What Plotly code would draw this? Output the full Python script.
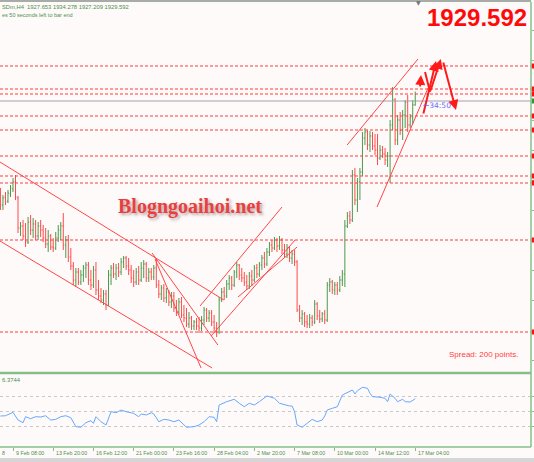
import plotly.graph_objects as go

# XAUUSDm H4 - bar index 0 is 9 Feb 08:00, the last bar is 17 Mar 04:00
first_bar = -5

bar_open = [
    1882.6, 1877.6, 1881.6, 1879.6, 1883.1, 1885.6, 1889.1, 1881.1, 1866.1, 1867.1,
    1862.1, 1859.1, 1869.1, 1865.1, 1868.1, 1862.1, 1867.1, 1865.1, 1861.1, 1858.1,
    1862.1, 1856.6, 1856.1, 1861.1, 1865.1, 1867.1, 1857.6, 1860.1, 1851.6, 1847.1,
    1840.1, 1844.1, 1839.1, 1842.6, 1846.1, 1847.6, 1840.1, 1837.6, 1845.1, 1835.1,
    1832.1, 1830.1, 1833.1, 1827.6, 1842.6, 1846.1, 1843.1, 1846.1, 1844.1, 1849.1,
    1851.1, 1847.1, 1845.1, 1841.1, 1839.1, 1844.1, 1840.1, 1846.1, 1848.1, 1841.1,
    1844.1, 1841.6, 1846.1, 1837.6, 1833.1, 1836.1, 1831.1, 1834.1, 1829.1, 1832.1,
    1826.1, 1824.1, 1829.1, 1822.6, 1821.1, 1818.1, 1821.1, 1817.1, 1819.1, 1817.1,
    1816.1, 1820.1, 1825.1, 1821.1, 1823.6, 1819.1, 1816.1, 1814.1, 1830.1, 1834.1,
    1832.1, 1838.1, 1841.1, 1837.6, 1844.1, 1847.6, 1842.6, 1841.1, 1839.1, 1837.1,
    1842.1, 1840.1, 1846.1, 1843.1, 1847.6, 1851.1, 1848.1, 1854.1, 1857.6, 1856.1,
    1860.1, 1857.1, 1860.1, 1855.1, 1853.1, 1856.1, 1851.1, 1853.1, 1849.1, 1825.1,
    1821.1, 1823.1, 1819.1, 1818.1, 1821.1, 1819.1, 1828.1, 1822.1, 1820.6, 1823.1,
    1820.1, 1837.6, 1839.1, 1835.1, 1837.6, 1835.1, 1840.1, 1843.1, 1867.1, 1872.1,
    1870.1, 1892.6, 1880.1, 1889.1, 1894.1, 1911.1, 1914.1, 1907.6, 1912.1, 1907.1,
    1905.1, 1901.1, 1905.1, 1903.1, 1900.1, 1902.1, 1917.6, 1930.1, 1910.1, 1920.1,
    1915.1, 1922.6, 1929.1, 1917.6, 1921.1, 1927.653,
]
bar_high = [
    1886.1, 1882.6, 1884.1, 1885.1, 1887.6, 1891.1, 1892.6, 1882.1, 1869.1, 1870.1,
    1868.6, 1871.6, 1872.6, 1871.1, 1870.1, 1869.1, 1870.1, 1867.6, 1866.1, 1865.1,
    1863.1, 1861.1, 1864.1, 1867.6, 1869.1, 1873.6, 1862.1, 1862.6, 1856.1, 1849.1,
    1846.1, 1846.1, 1845.1, 1847.6, 1849.1, 1849.1, 1845.1, 1847.1, 1849.1, 1840.1,
    1836.1, 1835.1, 1835.1, 1845.1, 1847.6, 1848.6, 1848.1, 1848.6, 1851.1, 1852.1,
    1852.1, 1851.1, 1847.6, 1845.1, 1846.1, 1847.1, 1849.1, 1850.1, 1849.1, 1846.1,
    1846.1, 1847.6, 1851.1, 1840.1, 1837.6, 1838.1, 1836.1, 1835.1, 1834.1, 1834.1,
    1830.1, 1831.1, 1831.6, 1827.6, 1826.1, 1824.1, 1822.1, 1820.1, 1821.1, 1821.6,
    1822.1, 1826.6, 1826.1, 1825.1, 1825.1, 1822.6, 1819.1, 1831.6, 1836.1, 1836.6,
    1840.1, 1842.6, 1842.1, 1845.1, 1849.1, 1848.1, 1846.1, 1844.1, 1842.6, 1844.1,
    1845.1, 1847.6, 1848.1, 1849.1, 1852.6, 1854.1, 1856.1, 1859.1, 1860.1, 1861.6,
    1861.1, 1862.1, 1861.1, 1858.1, 1858.1, 1857.1, 1855.1, 1855.1, 1850.1, 1827.6,
    1825.1, 1824.1, 1822.6, 1823.1, 1822.6, 1830.1, 1829.1, 1825.1, 1824.1, 1825.1,
    1839.1, 1841.1, 1840.1, 1839.1, 1839.1, 1842.1, 1845.1, 1870.1, 1874.1, 1874.6,
    1895.1, 1896.1, 1891.1, 1896.1, 1914.1, 1916.1, 1915.1, 1914.6, 1914.1, 1913.1,
    1913.1, 1907.6, 1907.1, 1906.1, 1904.1, 1920.1, 1936.6, 1931.1, 1922.6, 1924.1,
    1925.1, 1930.1, 1932.6, 1923.1, 1930.1, 1934.278,
]
bar_low = [
    1875.1, 1875.1, 1877.6, 1878.6, 1881.6, 1884.1, 1880.1, 1863.6, 1862.1, 1860.1,
    1856.6, 1858.1, 1862.6, 1861.1, 1860.1, 1860.1, 1861.6, 1859.1, 1856.1, 1854.1,
    1855.1, 1854.1, 1855.1, 1859.1, 1860.1, 1855.1, 1851.1, 1849.1, 1845.1, 1837.6,
    1836.6, 1837.6, 1837.6, 1839.1, 1841.1, 1837.6, 1835.1, 1836.1, 1832.6, 1830.1,
    1828.6, 1827.6, 1825.1, 1827.1, 1837.6, 1841.1, 1840.1, 1841.6, 1842.6, 1846.1,
    1845.1, 1842.6, 1838.6, 1836.6, 1837.6, 1837.6, 1839.1, 1841.1, 1839.1, 1839.1,
    1840.1, 1840.1, 1836.1, 1831.1, 1830.1, 1829.1, 1828.6, 1827.1, 1826.1, 1824.1,
    1822.1, 1822.6, 1821.1, 1819.1, 1816.6, 1816.1, 1815.1, 1815.1, 1815.1, 1813.6,
    1814.6, 1817.6, 1819.1, 1819.1, 1817.1, 1813.6, 1811.6, 1813.1, 1829.1, 1830.1,
    1831.1, 1835.1, 1835.1, 1836.6, 1841.1, 1840.1, 1839.1, 1837.1, 1835.1, 1835.6,
    1837.1, 1839.1, 1841.1, 1841.6, 1845.1, 1846.1, 1847.1, 1852.1, 1854.1, 1855.1,
    1854.1, 1855.1, 1853.1, 1851.1, 1851.1, 1849.1, 1848.1, 1847.1, 1824.1, 1819.1,
    1817.6, 1816.6, 1816.1, 1816.1, 1817.1, 1818.1, 1820.1, 1818.6, 1819.1, 1818.1,
    1819.1, 1834.1, 1833.1, 1832.6, 1832.6, 1834.1, 1837.1, 1836.6, 1866.1, 1868.1,
    1869.1, 1877.6, 1874.1, 1880.1, 1892.1, 1907.6, 1905.1, 1904.1, 1905.1, 1902.6,
    1897.6, 1900.1, 1901.1, 1897.6, 1896.6, 1888.6, 1915.1, 1907.6, 1907.6, 1912.6,
    1910.1, 1916.1, 1914.1, 1916.1, 1918.1, 1927.209,
]
bar_close = [
    1877.6, 1881.1, 1879.1, 1883.6, 1886.1, 1889.1, 1881.6, 1866.1, 1867.1, 1862.1,
    1859.1, 1869.1, 1865.1, 1868.1, 1862.1, 1867.1, 1865.1, 1861.1, 1858.1, 1862.1,
    1856.6, 1856.1, 1861.1, 1865.1, 1867.1, 1857.6, 1860.1, 1851.6, 1847.1, 1840.1,
    1844.1, 1839.1, 1842.6, 1846.1, 1847.6, 1840.1, 1837.6, 1845.1, 1835.1, 1832.1,
    1830.1, 1833.1, 1827.6, 1842.6, 1846.1, 1843.1, 1846.1, 1844.1, 1849.1, 1851.1,
    1847.1, 1845.1, 1841.1, 1839.1, 1844.1, 1840.1, 1846.1, 1848.1, 1841.1, 1844.1,
    1841.6, 1846.1, 1837.6, 1833.1, 1836.1, 1831.1, 1834.1, 1829.1, 1832.1, 1826.1,
    1824.1, 1829.1, 1822.6, 1821.1, 1818.1, 1821.1, 1817.1, 1819.1, 1817.1, 1816.1,
    1820.1, 1825.1, 1821.1, 1823.6, 1819.1, 1816.1, 1814.1, 1830.1, 1834.1, 1832.1,
    1838.1, 1841.1, 1837.6, 1844.1, 1847.6, 1842.6, 1841.1, 1839.1, 1837.1, 1842.1,
    1840.1, 1846.1, 1843.1, 1847.6, 1851.1, 1848.1, 1854.1, 1857.6, 1856.1, 1860.1,
    1857.1, 1860.1, 1855.1, 1853.1, 1856.1, 1851.1, 1853.1, 1849.1, 1825.1, 1821.1,
    1823.1, 1819.1, 1818.1, 1821.1, 1819.1, 1828.1, 1822.1, 1820.6, 1823.1, 1820.1,
    1837.6, 1839.1, 1835.1, 1837.6, 1835.1, 1840.1, 1843.1, 1867.1, 1872.1, 1870.1,
    1892.6, 1880.1, 1889.1, 1894.1, 1911.1, 1914.1, 1907.6, 1912.1, 1907.1, 1905.1,
    1901.1, 1905.1, 1903.1, 1900.1, 1902.1, 1917.6, 1930.1, 1910.1, 1920.1, 1915.1,
    1922.6, 1929.1, 1917.6, 1921.1, 1927.7, 1929.592,
]
bar_index = list(range(first_bar, first_bar + len(bar_close)))

# indicator panel (RSI 14)
rsi_index = [
    -5, -3, 0, 2, 4, 5, 7, 9, 11, 13, 15, 17, 19, 21, 23, 25, 27, 29, 31, 32,
    33, 35, 37, 39, 41, 43, 45, 48, 50, 51, 53, 55, 56, 58, 60, 62, 64, 66, 69, 72,
    74, 76, 78, 80, 81, 82, 85, 88, 90, 92, 94, 96, 98, 100, 101, 102, 104, 106, 108, 110,
    111, 112, 113, 115, 117, 119, 121, 123, 124, 125, 127, 129, 131, 133, 135, 136, 137, 139, 141, 142,
    143, 146, 148, 149, 150, 152, 153, 155, 156, 158, 160,
]
rsi_value = [
    43.3, 43.7, 48.2, 38.0, 34.4, 42.4, 39.7, 42.4, 42.0, 43.7, 38.0, 38.9, 42.4, 43.7, 41.1, 29.1, 28.3, 34.4, 37.1, 33.6,
    42.4, 35.7, 31.3, 49.1, 47.7, 51.3, 49.1, 46.9, 42.4, 46.0, 44.7, 47.7, 46.0, 35.7, 38.9, 38.0, 35.7, 38.0, 28.3, 29.1,
    31.3, 35.7, 42.4, 41.6, 35.7, 58.0, 62.4, 65.6, 60.3, 55.7, 60.3, 58.0, 62.4, 68.3, 70.0, 69.1, 66.9, 60.3, 58.0, 56.7,
    56.7, 49.1, 31.3, 28.3, 33.6, 38.9, 35.7, 38.0, 43.3, 51.3, 53.6, 55.7, 71.3, 74.4, 78.0, 72.7, 77.1, 81.6, 80.3, 73.6,
    69.1, 68.3, 66.9, 62.4, 72.7, 66.9, 62.4, 65.6, 62.4, 62.0, 66.37,
]
rsi_levels = [30, 50, 70]

time_ticks = [0, 16, 32, 48, 64, 80, 96, 112, 128, 144, 160]
time_labels = ["9 Feb 08:00", "13 Feb 20:00", "16 Feb 12:00", "21 Feb 00:00",
               "23 Feb 16:00", "28 Feb 04:00", "2 Mar 20:00", "7 Mar 08:00",
               "10 Mar 00:00", "14 Mar 12:00", "17 Mar 04:00"]

# horizontal support / resistance levels
level_prices = [1947.1, 1935.6, 1933.1, 1922.1, 1915.1, 1902.1, 1892.1, 1888.6, 1860.1, 1814.1]
last_price = 1929.592

# trend lines: (bar0, price0, bar1, price1)
trend_lines = [
    (-5.2, 1899.1, 83.9, 1830.1),
    (-5.2, 1859.6, 79.2, 1796.1),
    (55.3, 1853.6, 81.5, 1807.6),
    (56.5, 1850.6, 74.8, 1796.1),
    (74.4, 1827.1, 107.0, 1876.6),
    (78.8, 1812.1, 112.2, 1860.1),
    (89.5, 1831.6, 113.0, 1856.6),
    (132.9, 1907.6, 161.1, 1950.6),
    (144.8, 1876.6, 165.1, 1936.1),
]
# drawn arrows: (head bar, head price, tail bar, tail price)
arrows = [
    (162.3, 1942.6, 161.9, 1936.1),
    (168.3, 1949.6, 163.1, 1922.6),
    (170.2, 1950.6, 165.9, 1934.1),
    (176.2, 1925.1, 171.0, 1949.6),
]
arrow_stroke = (163.9, 1944.1, 165.9, 1934.1)

W, H = 534, 462
PLOT_W, PLOT_H = 531, 447
GREEN = "#86bf86"
TXT_GREEN = "#4b8f4b"
SANS = "Liberation Sans, Arial, sans-serif"


def px(x):
    return x / PLOT_W


def py(y):
    return 1 - y / PLOT_H


fig = go.Figure()

fig.add_trace(go.Ohlc(
    x=bar_index, open=bar_open, high=bar_high, low=bar_low, close=bar_close,
    increasing=dict(line=dict(color="#4a9a4a", width=1)),
    decreasing=dict(line=dict(color="#ff4a4a", width=1)),
    tickwidth=0.35, xaxis="x", yaxis="y", showlegend=False, hoverinfo="skip",
))

fig.add_trace(go.Scatter(
    x=rsi_index, y=rsi_value, mode="lines",
    line=dict(color="#64a8ff", width=1),
    xaxis="x", yaxis="y2", showlegend=False, hoverinfo="skip",
))

shapes = []
for lv in level_prices:
    shapes.append(dict(type="line", xref="paper", yref="y", x0=0, x1=1, y0=lv, y1=lv,
                       line=dict(color="#ff3a3a", width=1, dash="3px,2px")))
    shapes.append(dict(type="rect", xref="paper", yref="y", x0=1.001, x1=1.008,
                       y0=lv - 1.3, y1=lv + 1.3, fillcolor="#ff1010", line=dict(width=0)))
shapes.append(dict(type="line", xref="paper", yref="y", x0=0, x1=1, y0=last_price, y1=last_price,
                   line=dict(color="#a0a0b0", width=1)))
shapes.append(dict(type="rect", xref="paper", yref="y", x0=1.001, x1=1.008,
                   y0=last_price - 1.3, y1=last_price + 1.3, fillcolor="#2a9a2a", line=dict(width=0)))

for b0, p0, b1, p1 in trend_lines:
    shapes.append(dict(type="line", xref="x", yref="y", x0=b0, y0=p0, x1=b1, y1=p1,
                       line=dict(color="#ff4646", width=1)))
b0, p0, b1, p1 = arrow_stroke
shapes.append(dict(type="line", xref="x", yref="y", x0=b0, y0=p0, x1=b1, y1=p1,
                   line=dict(color="#ff1a1a", width=2)))

# window frame
shapes += [
    dict(type="line", xref="paper", yref="paper", x0=0, x1=1, y0=py(1), y1=py(1),
         line=dict(color="#a8aca8", width=2)),
    dict(type="line", xref="paper", yref="paper", x0=1, x1=1, y0=0, y1=py(2),
         line=dict(color=GREEN, width=1.5)),
    dict(type="line", xref="paper", yref="paper", x0=0, x1=1, y0=py(373), y1=py(373),
         line=dict(color=GREEN, width=2.5)),
    dict(type="line", xref="paper", yref="paper", x0=0, x1=1, y0=0, y1=0,
         line=dict(color=GREEN, width=1.5)),
    dict(type="rect", xref="paper", yref="paper", x0=-0.01, x1=1.02, y0=py(470), y1=py(458),
         fillcolor="#d6d6d6", line=dict(width=0)),
]

annotations = []
for b1, p1, b0, p0 in arrows:
    annotations.append(dict(x=b1, y=p1, ax=b0, ay=p0, xref="x", yref="y", axref="x", ayref="y",
                            text="", showarrow=True, arrowhead=2, arrowsize=1, arrowwidth=2,
                            arrowcolor="#ff1a1a", standoff=0, startstandoff=0))

for t, lab in zip(time_ticks, time_labels):
    annotations.append(dict(x=t, y=py(452.5), xref="x", yref="paper", text=lab, showarrow=False,
                            xanchor="left", yanchor="middle", xshift=0.5,
                            font=dict(family=SANS, size=5.3, color=TXT_GREEN)))

# texts that the window cuts at its left edge: only their visible part is shown
annotations += [
    dict(x=0, y=py(452.5), xref="paper", yref="paper", xanchor="left", yanchor="middle",
         text="8", showarrow=False, font=dict(family=SANS, size=5.3, color=TXT_GREEN)),
    dict(x=0, y=py(7), xref="paper", yref="paper", xanchor="left", yanchor="middle",
         text="SDm,H4  1927.653 1934.278 1927.209 1929.592", showarrow=False,
         font=dict(family=SANS, size=5.8, color=TXT_GREEN)),
    dict(x=0, y=py(15), xref="paper", yref="paper", xanchor="left", yanchor="middle",
         text="es 50 seconds left to bar end", showarrow=False,
         font=dict(family=SANS, size=5.5, color=TXT_GREEN)),
    dict(x=0, y=py(380), xref="paper", yref="paper", xanchor="left", yanchor="middle",
         text="6.3744", showarrow=False,
         font=dict(family=SANS, size=5.9, color=TXT_GREEN)),
    dict(x=px(529), y=py(17), xref="paper", yref="paper", xanchor="right", yanchor="middle",
         text="1929.592", showarrow=False,
         font=dict(family=SANS, size=24, color="#ff0a0a", weight="bold")),
    dict(x=px(189.5), y=py(206), xref="paper", yref="paper", xanchor="center", yanchor="middle",
         text="Blogngoaihoi.net", showarrow=False,
         font=dict(family="Liberation Serif, Times New Roman, serif", size=20, color="#e8403e",
                   weight="bold", shadow="2px 2px 3px rgba(90,60,60,0.45)")),
    dict(x=px(447), y=py(354), xref="paper", yref="paper", xanchor="left", yanchor="middle",
         text="Spread: 200 points.", showarrow=False,
         font=dict(family=SANS, size=8, color="#ff4040")),
    dict(x=px(421), y=py(105), xref="paper", yref="paper", xanchor="left", yanchor="middle",
         text="←34:50", showarrow=False,
         font=dict(family="DejaVu Sans, sans-serif", size=7.5, color="#6c6cff")),
    dict(x=px(418), y=py(3), xref="paper", yref="paper", xanchor="center", yanchor="middle",
         text="▼", showarrow=False, font=dict(family="DejaVu Sans", size=6, color="#6a7a7a")),
]

fig.update_layout(
    width=W, height=H,
    margin=dict(l=0, r=W - PLOT_W, t=0, b=H - PLOT_H),
    paper_bgcolor="#fffafa", plot_bgcolor="#fffafa",
    shapes=shapes, annotations=annotations,
    showlegend=False,
    xaxis=dict(
        domain=[0, 1], anchor="y2", range=[-13 / 2.514, (PLOT_W - 13) / 2.514],
        showgrid=False, zeroline=False, showline=False,
        ticks="outside", ticklen=3, tickcolor=GREEN, tickvals=time_ticks,
        showticklabels=False, rangeslider=dict(visible=False),
    ),
    yaxis=dict(
        domain=[py(371.5), py(3)], range=[1980.1 - 371.5 / 2, 1980.1 - 3 / 2],
        anchor="x", side="right", showgrid=False, zeroline=False,
        ticks="outside", ticklen=2, tickcolor=GREEN, tick0=1800, dtick=15,
        showticklabels=False,
    ),
    yaxis2=dict(
        domain=[0, py(374.5)], range=[2, (448.5 - 374.5) / 0.75],
        anchor="x", side="right", zeroline=False,
        showgrid=True, gridcolor="#c8c8c8", griddash="dot", gridwidth=1,
        tickvals=rsi_levels, ticks="outside", ticklen=2, tickcolor=GREEN,
        showticklabels=False,
    ),
)

# the page body has a default 8px margin; drop it so the chart fills the window
fig.write_html("out.html", config={"displayModeBar": False},
               post_script="document.body.style.margin = '0';")
